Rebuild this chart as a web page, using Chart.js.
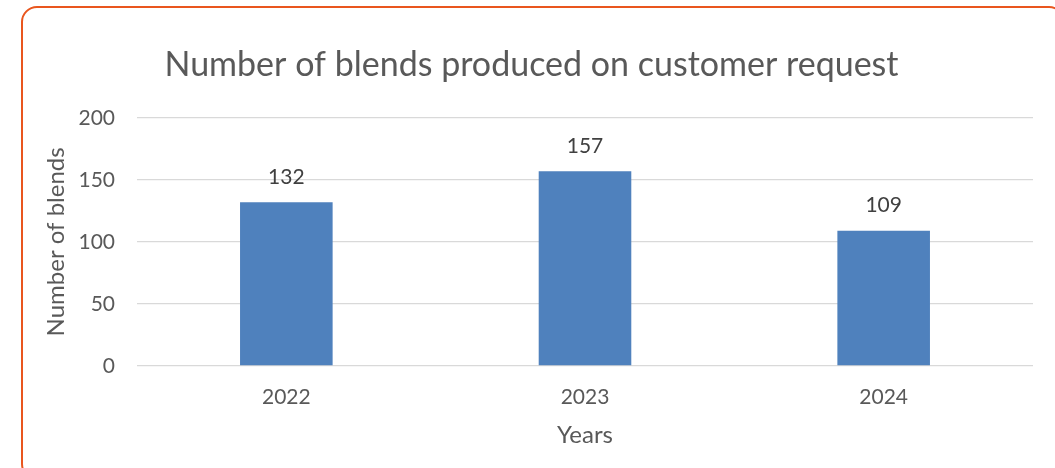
<!DOCTYPE html>
<html>
<head>
<meta charset="utf-8">
<script src="https://cdn.jsdelivr.net/npm/chart.js@4.4.1/dist/chart.umd.min.js"></script>
<style>
  html, body { margin: 0; padding: 0; background: #fff; overflow: hidden; }
  #frame {
    position: absolute; left: 21px; top: 6px;
    width: 1040px; height: 470px;
    border: 2.5px solid #E9561E; border-radius: 16px;
  }
  #wrap { position: absolute; left: 0; top: 0; width: 1055px; height: 468px; }
</style>
</head>
<body>
<div id="frame"></div>
<div id="wrap"><canvas id="blendsChart"></canvas></div>
<script>
const years = ['2022', '2023', '2024'];
const blends = [132, 157, 109];
const yTicks = [0, 50, 100, 150, 200];

const FONT = 'Lato, "Noto Sans", sans-serif';
const GREY = '#595959';

// value labels over each bar
const barValues = {
    id: 'barValues',
    afterDatasetsDraw(chart) {
        const ctx = chart.ctx;
        const meta = chart.getDatasetMeta(0);
        ctx.save();
        ctx.font = '21px ' + FONT;
        ctx.fillStyle = '#404040';
        ctx.textAlign = 'center';
        ctx.textBaseline = 'middle';
        meta.data.forEach((bar, i) => {
            ctx.fillText(String(blends[i]), bar.x, bar.y - 25);
        });
        ctx.restore();
    }
};

new Chart(document.getElementById('blendsChart'), {
    type: 'bar',
    data: {
        labels: years,
        datasets: [{
            label: 'Number of blends',
            data: blends,
            backgroundColor: '#4F81BD',
            categoryPercentage: 1,
            barPercentage: 0.31
        }]
    },
    options: {
        responsive: true,
        maintainAspectRatio: false,
        animation: false,
        layout: { padding: { left: 30, right: 22, top: 30, bottom: 14 } },
        plugins: {
            legend: { display: false },
            tooltip: { enabled: false },
            title: {
                display: true,
                text: 'Number of blends produced on customer request',
                color: GREY,
                font: { family: FONT, size: 34, weight: 'normal' },
                padding: { top: 15, bottom: 32 }
            }
        },
        scales: {
            x: {
                afterFit(scale) { scale.height = 88; },
                grid: { display: false },
                border: { display: false },
                ticks: { color: GREY, font: { family: FONT, size: 21 }, padding: 11 },
                title: {
                    display: true, text: 'Years', color: GREY,
                    font: { family: FONT, size: 24 }, padding: { top: 4, bottom: 4 }
                }
            },
            y: {
                min: 0,
                max: 200,
                afterBuildTicks(scale) {
                    scale.ticks = yTicks.map(v => ({ value: v }));
                },
                afterFit(scale) { scale.width = 107; },
                grid: { color: '#D9D9D9', lineWidth: 1.3, drawTicks: false },
                border: { display: false },
                ticks: { color: GREY, font: { family: FONT, size: 21 }, padding: 22 },
                title: {
                    display: true, text: 'Number of blends', color: GREY,
                    font: { family: FONT, size: 24 }, padding: { top: 12, bottom: 4 }
                }
            }
        }
    },
    plugins: [barValues]
});
</script>
</body>
</html>
